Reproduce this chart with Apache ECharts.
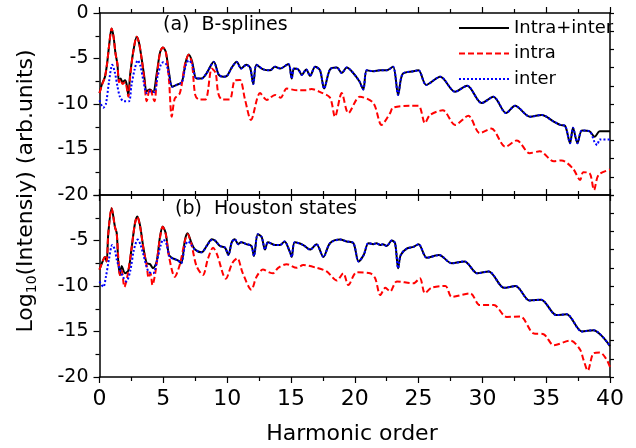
<!DOCTYPE html>
<html>
<head>
<meta charset="utf-8">
<script src="https://cdn.jsdelivr.net/npm/echarts@6/dist/echarts.min.js"></script>
<style>
html,body{margin:0;padding:0;background:#fff;}
#chart{width:636px;height:448px;}
</style>
</head>
<body>
<div id="chart"></div>
<script>
// ---------- DATA ----------
const xTicks = [0, 5, 10, 15, 20, 25, 30, 35, 40];
const yTicks = [0, -5, -10, -15, -20];
const seriesNames = ['Intra+inter', 'intra', 'inter'];
const panelTitles = ['(a)  B-splines', '(b)  Houston states'];

// (a) B-splines : Intra+inter
const aTotalX = [0,0.2,0.43,0.6,0.75,0.95,1.1,1.25,1.4,1.53,1.65,1.8,2.0,2.12,2.26,2.4,2.65,2.92,3.1,3.3,3.5,3.7,3.95,4.2,4.5,4.75,4.97,5.2,5.45,5.7,
  6.05,6.45,6.75,7.0,7.25,7.6,8.0,8.4,8.95,9.35,9.7,10.0,10.36,10.75,11.1,11.5,11.8,12.05,12.3,12.84,13.36,13.75,14.15,14.8,15.06,15.24,15.58,15.85,16.2,16.5,16.9,17.28,17.6,18.06,18.6,18.98,19.37,19.76,20.36,20.67,20.94,21.46,22.0,22.5,23.0,23.4,23.75,24.6,25.0,25.6,26.7,27.86,28.8,29.95,30.86,31.86,32.56,33.74,34.65,35.56,36.1,36.48,36.87,37.1,37.45,37.8,38.4,38.8,39.2,40];
const aTotalY = [-8.8,-7.8,-7.0,-5.5,-3.6,-1.7,-2.6,-4.4,-5.6,-7.5,-7.2,-7.6,-7.4,-7.8,-9.0,-6.8,-4.2,-2.6,-3.3,-5.0,-6.9,-8.6,-8.4,-8.7,-6.5,-4.3,-3.8,-4.3,-6.6,-8.1,
  -7.9,-7.6,-5.4,-4.55,-5.3,-7.2,-7.2,-6.6,-5.35,-6.8,-7.0,-6.9,-6.0,-5.35,-6.1,-5.7,-6.0,-7.8,-5.7,-6.2,-6.3,-5.9,-6.1,-5.6,-7.2,-6.1,-6.2,-6.8,-6.2,-6.9,-5.9,-6.3,-8.3,-6.2,-6.0,-6.6,-6.0,-6.4,-7.5,-8.4,-6.3,-6.4,-6.3,-6.3,-5.9,-9.0,-6.7,-6.4,-6.3,-7.9,-7.0,-8.65,-8.0,-9.9,-9.2,-11.0,-10.2,-11.4,-11.2,-11.9,-12.3,-12.4,-14.3,-12.6,-14.3,-12.9,-13.0,-13.6,-13.0,-13.0];

// (a) intra
const aIntraX = [0,0.2,0.43,0.6,0.75,0.95,1.1,1.25,1.4,1.53,1.65,1.8,2.0,2.26,2.4,2.65,2.92,3.1,3.3,3.5,3.7,3.95,4.3,4.5,4.75,4.97,5.2,5.45,5.66,5.9,6.3,6.7,7.0,7.25,7.5,7.8,8.3,8.8,9.1,9.3,9.6,10.2,10.6,11.0,11.4,11.87,12.58,13.1,13.75,14.2,14.67,15.5,16.2,16.6,17.3,18.06,18.45,18.98,19.5,20.4,21.46,22.1,22.77,23.0,24.3,25.0,25.5,25.9,26.9,27.86,28.9,29.8,30.7,31.8,32.7,33.7,34.5,35.6,36.2,37.1,37.66,37.9,38.4,38.75,39.1,40];
const aIntraY = [-8.8,-7.9,-7.0,-5.5,-3.6,-1.7,-2.6,-4.4,-5.6,-7.6,-7.3,-7.8,-7.6,-9.2,-7.0,-4.2,-2.6,-3.3,-5.0,-7.2,-9.7,-8.3,-9.7,-7.0,-4.3,-3.8,-4.3,-7.5,-11.4,-9.4,-8.8,-5.6,-4.6,-5.6,-9.0,-9.5,-9.5,-6.1,-6.6,-8.8,-9.5,-9.5,-7.4,-7.35,-9.5,-11.75,-8.8,-9.55,-9.0,-9.3,-8.3,-8.5,-8.5,-8.35,-8.7,-9.3,-11.4,-8.8,-11.0,-9.2,-9.9,-12.3,-11.0,-10.4,-10.2,-10.2,-12.1,-11.2,-10.7,-12.3,-11.3,-13.2,-12.7,-14.7,-14.0,-15.4,-15.2,-16.3,-16.2,-17.1,-18.35,-17.5,-17.6,-19.45,-17.8,-17.2];

// (a) inter
const aInterX = [0,0.3,0.5,0.75,1.0,1.2,1.4,1.6,1.9,2.3,2.5,2.75,3.0,3.2,3.45,3.7,4.0,4.3,4.55,4.8,5.0,5.25,5.45,5.7,
  6.05,6.45,6.75,7.0,7.25,7.6,8.0,8.4,8.95,9.35,9.7,10.0,10.36,10.75,11.1,11.5,11.8,12.05,12.3,12.84,13.36,13.75,14.15,14.8,15.06,15.24,15.58,15.85,16.2,16.5,16.9,17.28,17.6,18.06,18.6,18.98,19.37,19.76,20.36,20.67,20.94,21.46,22.0,22.5,23.0,23.4,23.75,24.6,25.0,25.6,26.7,27.86,28.8,29.95,30.86,31.86,32.56,33.74,34.65,35.56,36.1,36.48,36.87,37.1,37.45,37.8,38.4,38.8,39.0,39.2,40];
const aInterY = [-9.6,-10.4,-10.0,-7.5,-5.7,-6.5,-8.0,-9.2,-9.7,-9.7,-8.0,-6.2,-5.2,-5.8,-7.5,-8.8,-8.6,-8.7,-7.0,-5.7,-5.4,-5.7,-6.8,-8.1,
  -7.9,-7.6,-5.8,-5.2,-5.6,-7.2,-7.2,-6.6,-5.4,-6.8,-7.0,-6.9,-6.0,-5.4,-6.1,-5.7,-6.0,-7.8,-5.7,-6.2,-6.3,-5.9,-6.1,-5.6,-7.2,-6.1,-6.2,-6.8,-6.2,-6.9,-5.9,-6.3,-8.3,-6.2,-6.0,-6.6,-6.0,-6.4,-7.5,-8.4,-6.3,-6.4,-6.3,-6.3,-5.9,-9.0,-6.7,-6.4,-6.3,-7.9,-7.0,-8.65,-8.0,-9.9,-9.2,-11.0,-10.2,-11.4,-11.2,-11.9,-12.3,-12.4,-14.3,-12.6,-14.3,-12.9,-13.0,-14.2,-14.5,-13.9,-13.9];

// (b) Houston states : Intra+inter
const bTotalX = [0,0.3,0.43,0.56,0.69,0.95,1.21,1.35,1.47,1.6,1.74,2.0,2.26,2.5,2.78,2.96,3.17,3.43,3.7,3.96,4.2,4.48,4.74,4.95,5.19,5.45,5.8,6.17,6.4,6.7,6.9,7.2,7.48,8.0,8.4,8.8,
  9.05,9.44,9.84,10.1,10.36,10.6,10.87,11.1,11.5,11.9,12.1,12.4,12.7,12.97,13.2,13.75,14.15,14.5,14.9,15.06,15.3,15.97,16.5,17.0,17.54,18.06,18.85,19.37,19.9,20.3,20.7,21.07,21.46,21.7,22.0,22.2,22.5,22.9,23.16,23.4,23.6,24.07,24.6,25.0,25.65,26.6,27.6,28.6,29.6,30.5,31.7,32.6,33.7,34.6,35.8,36.6,37.8,38.7,40];
const bTotalY = [-8.2,-7.1,-6.8,-7.3,-4.2,-1.45,-3.5,-4.2,-7.3,-8.8,-7.8,-8.6,-8.3,-6.0,-3.1,-2.35,-3.3,-5.7,-7.5,-7.6,-8.05,-7.3,-4.6,-3.46,-4.2,-6.6,-7.0,-7.2,-7.5,-4.9,-4.2,-5.25,-6.0,-6.3,-5.6,-4.85,
  -5.0,-5.6,-5.8,-6.6,-5.2,-4.85,-5.4,-5.2,-5.4,-5.6,-6.7,-4.3,-4.6,-6.0,-5.2,-5.5,-5.5,-5.1,-6.2,-6.8,-5.2,-5.5,-6.0,-5.4,-6.8,-5.3,-4.9,-5.1,-5.3,-7.3,-6.6,-5.3,-5.4,-5.3,-5.5,-5.4,-5.6,-5.0,-5.3,-8.05,-6.6,-5.9,-5.7,-5.4,-6.9,-6.6,-7.5,-7.3,-8.6,-8.4,-10.2,-10.0,-11.6,-11.5,-13.2,-13.1,-15.0,-14.85,-16.6];

// (b) intra
const bIntraX = [0,0.3,0.43,0.56,0.69,0.95,1.21,1.35,1.47,1.6,1.74,1.95,2.2,2.5,2.78,2.96,3.17,3.43,3.7,3.85,4.0,4.15,4.4,4.74,4.95,5.19,5.45,5.9,6.3,6.7,6.9,7.2,7.6,8.1,8.5,8.9,9.2,9.9,10.4,10.8,11.2,11.9,12.3,12.8,13.3,13.6,14.0,14.67,15.45,15.97,17.0,17.8,18.6,19.1,19.5,20.15,21.2,21.6,22.0,22.4,22.77,23.3,24.6,25.1,25.5,26.0,27.1,27.6,29.05,29.8,30.9,31.9,32.97,34.0,34.8,35.6,36.9,37.66,37.9,38.26,38.7,39.2,39.7,40];
const bIntraY = [-8.2,-7.1,-6.8,-7.3,-4.2,-1.45,-3.5,-4.3,-6.8,-8.8,-8.3,-10.1,-8.8,-6.0,-3.1,-2.4,-3.4,-5.8,-7.8,-9.1,-8.6,-9.9,-8.3,-4.7,-3.5,-4.3,-6.8,-9.0,-7.6,-5.0,-4.3,-5.4,-7.8,-8.8,-7.0,-5.8,-6.5,-9.2,-7.5,-6.95,-8.5,-10.4,-9.0,-8.2,-8.5,-8.6,-8.0,-7.6,-8.0,-7.7,-8.0,-8.4,-9.4,-8.6,-9.9,-8.5,-8.6,-9.15,-11.0,-10.2,-10.6,-9.5,-9.7,-9.15,-10.8,-10.2,-10.0,-11.2,-10.8,-12.1,-12.1,-13.4,-13.35,-15.2,-15.3,-16.5,-16.0,-17.0,-18.0,-19.3,-17.4,-17.3,-18.0,-18.9];

// (b) inter
const bInterX = [0,0.3,0.5,0.75,1.0,1.2,1.35,1.6,1.85,2.1,2.4,2.7,3.0,3.2,3.43,3.83,4.2,4.5,4.8,5.0,5.25,5.5,5.8,6.17,6.4,6.7,6.95,7.2,7.48,8.0,8.4,8.8,
  9.05,9.44,9.84,10.1,10.36,10.6,10.87,11.1,11.5,11.9,12.1,12.4,12.7,12.97,13.2,13.75,14.15,14.5,14.9,15.06,15.3,15.97,16.5,17.0,17.54,18.06,18.85,19.37,19.9,20.3,20.7,21.07,21.46,21.7,22.0,22.2,22.5,22.9,23.16,23.4,23.6,24.07,24.6,25.0,25.65,26.6,27.6,28.6,29.6,30.5,31.7,32.6,33.7,34.6,35.8,36.6,37.8,38.7,40];
const bInterY = [-9.5,-10.1,-9.0,-7.0,-5.5,-6.0,-7.1,-8.2,-9.0,-9.5,-8.4,-6.0,-4.9,-5.4,-6.5,-8.4,-8.6,-7.3,-5.5,-4.9,-5.4,-6.8,-7.0,-7.2,-7.5,-5.6,-5.1,-5.5,-6.0,-6.3,-5.6,-4.95,
  -5.0,-5.6,-5.8,-6.6,-5.2,-4.85,-5.4,-5.2,-5.4,-5.6,-6.7,-4.3,-4.6,-6.0,-5.2,-5.5,-5.5,-5.1,-6.2,-6.8,-5.2,-5.5,-6.0,-5.4,-6.8,-5.3,-4.9,-5.1,-5.3,-7.3,-6.6,-5.3,-5.4,-5.3,-5.5,-5.4,-5.6,-5.0,-5.3,-8.05,-6.6,-5.9,-5.7,-5.4,-6.9,-6.6,-7.5,-7.3,-8.6,-8.4,-10.2,-10.0,-11.6,-11.5,-13.2,-13.1,-15.0,-14.85,-16.6];

// ---------- CHART ----------
const FONT = 'DejaVu Sans';
const zip = (xs, ys) => { const n = Math.min(xs.length, ys.length); const o = []; for (let i = 0; i < n; i++) o.push([xs[i], ys[i]]); return o; };

const GL = 99.5, GW = 510.5, GH = 182, T1 = 13, T2 = 195;
const axisLine = {show: true, onZero: false, lineStyle: {color: '#000', width: 1.5}};

function xAx(grid, pos, labels) {
  return {
    type: 'value', gridIndex: grid, position: pos, min: xTicks[0], max: xTicks[xTicks.length-1], interval: 5,
    axisLine: axisLine,
    axisTick: {show: true, inside: false, length: 6, lineStyle: {color: '#000', width: 1.2}},
    minorTick: {show: true, splitNumber: 2, length: 4, lineStyle: {color: '#000', width: 1.2}},
    splitLine: {show: false},
    axisLabel: {show: labels, fontSize: 22, fontFamily: FONT, color: '#000', margin: 11}
  };
}
function yAx(grid, pos, labels, showMax) {
  const left = pos === 'left';
  return {
    type: 'value', gridIndex: grid, position: pos, min: yTicks[yTicks.length-1], max: yTicks[0], interval: left ? 5 : 2,
    axisLine: axisLine,
    axisTick: {show: true, inside: false, length: left ? 6 : 4, lineStyle: {color: '#000', width: 1.2}},
    minorTick: {show: left, splitNumber: 2, length: 4, lineStyle: {color: '#000', width: 1.2}},
    splitLine: {show: false},
    axisLabel: {show: labels, showMaxLabel: showMax, fontSize: 19, fontFamily: FONT, color: '#000', margin: 11}
  };
}

const styles = [
  {color: '#000000', width: 2, type: 'solid'},
  {color: '#ff0000', width: 2, type: [6, 3]},
  {color: '#0000ff', width: 2, type: [2, 2]}
];
function ser(name, data, gi, k) {
  return {
    name: name, type: 'line', xAxisIndex: gi * 2, yAxisIndex: gi * 2, data: data,
    symbol: 'none', smooth: 0.3, clip: true, z: 2 + k,
    lineStyle: styles[k], itemStyle: {color: styles[k].color}
  };
}

const option = {
  animation: false,
  backgroundColor: '#fff',
  grid: [
    {left: GL, top: T1, width: GW, height: GH},
    {left: GL, top: T2, width: GW, height: GH}
  ],
  xAxis: [xAx(0, 'bottom', false), xAx(0, 'top', false), xAx(1, 'bottom', true), xAx(1, 'top', false)],
  yAxis: [yAx(0, 'left', true, true), yAx(0, 'right', false, true), yAx(1, 'left', true, false), yAx(1, 'right', false, true)],
  legend: {
    orient: 'vertical', left: 453, top: 14, itemWidth: 50, itemHeight: 14, itemGap: 7.5,
    data: seriesNames, selectedMode: false,
    itemStyle: {color: 'rgba(0,0,0,0)', borderColor: 'rgba(0,0,0,0)', borderWidth: 0},
    textStyle: {fontSize: 18, fontFamily: FONT, color: '#000'}
  },
  series: [
    ser(seriesNames[0], zip(aTotalX, aTotalY), 0, 0),
    ser(seriesNames[1], zip(aIntraX, aIntraY), 0, 1),
    ser(seriesNames[2], zip(aInterX, aInterY), 0, 2),
    ser(seriesNames[0], zip(bTotalX, bTotalY), 1, 0),
    ser(seriesNames[1], zip(bIntraX, bIntraY), 1, 1),
    ser(seriesNames[2], zip(bInterX, bInterY), 1, 2)
  ],
  graphic: [
    {type: 'text', left: 163, top: 16, z: 10, style: {text: panelTitles[0], fontSize: 19, fontFamily: FONT, fill: '#000'}},
    {type: 'text', left: 175, top: 200, z: 10, style: {text: panelTitles[1], fontSize: 19, fontFamily: FONT, fill: '#000'}},
    {type: 'text', x: 352, y: 434, z: 10, style: {text: 'Harmonic order', fontSize: 22, fontFamily: FONT, fill: '#000', align: 'center', verticalAlign: 'middle'}},
    {type: 'text', x: 27, y: 191, rotation: Math.PI / 2, z: 10, style: {
      text: '{m|Log}{s|10}{m|(Intensiy) (arb.units)}',
      fontFamily: FONT, fill: '#000', align: 'center', verticalAlign: 'middle',
      rich: {
        m: {fontSize: 22, fontFamily: FONT, fill: '#000', lineHeight: 24, verticalAlign: 'top'},
        s: {fontSize: 14, fontFamily: FONT, fill: '#000', lineHeight: 14, padding: [18, 0, 0, 0], verticalAlign: 'bottom'}
      }
    }}
  ]
};

const chart = echarts.init(document.getElementById('chart'), null, {renderer: 'canvas'});
chart.setOption(option);
</script>
</body>
</html>
